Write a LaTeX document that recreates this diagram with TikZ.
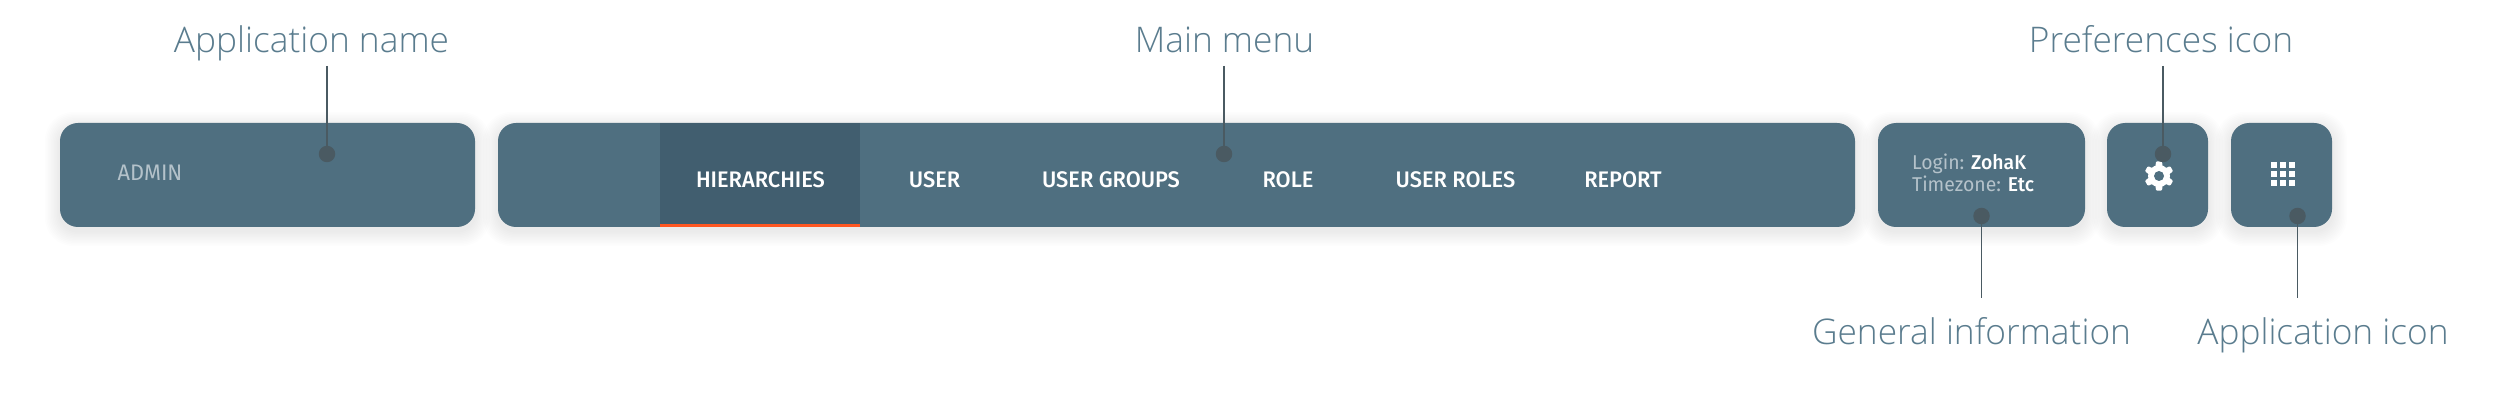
\documentclass[tikz,border=0pt]{standalone}
\usepackage{fontspec}
\setmainfont{Liberation Sans}
\newfontfamily\lblfont[UprightFont=* Light]{Open Sans}
\newfontfamily\uifont[UprightFont=* Medium,FakeStretch=0.97]{Fira Sans}
\newfontfamily\uilight[FakeStretch=0.97]{Fira Sans}
\definecolor{panel}{HTML}{4F6F80}
\definecolor{panelhi}{HTML}{415E6F}
\definecolor{panelgrey}{HTML}{B4C2CA}
\definecolor{pin}{HTML}{4A5A62}
\definecolor{lbl}{HTML}{5A7C8E}
\definecolor{accent}{HTML}{FF5722}
\tikzset{
  x=1pt,y=-1pt,
  panelbox/.style={fill=panel,rounded corners=18pt,inner sep=0pt,minimum height=104pt},
  dotpin/.style={circle,fill=pin,inner sep=0pt,minimum size=16.5pt},
  callout/.style={text=lbl,anchor=base,inner sep=0pt,font=\lblfont\fontsize{35.3}{42}\selectfont},
  menuitem/.style={text=white,anchor=base,inner sep=0pt,font=\uifont\fontsize{22.5}{26}\selectfont},
  infotext/.style={text=panelgrey,anchor=base west,inner sep=0pt,font=\uilight\fontsize{20}{23}\selectfont},
  wire/.style={draw=pin,line width=1.6pt},
  tile/.style={fill=white,inner sep=0pt,minimum size=6.2pt}
}
\newcommand{\softshadow}[2]{%
  \foreach \e in {1,2,...,10}{
    \fill[black,opacity=0.007,rounded corners=18pt+\e*1pt]
      (#1-\e*1.5,123+4-\e*1.5) rectangle (#2+\e*1.5,227+4+\e*1.5);
  }%
}
\begin{document}
\begin{tikzpicture}
\useasboundingbox (0,0) rectangle (2500,411);
\fill[white] (0,0) rectangle (2500,411);
\softshadow{60}{475}\softshadow{498}{1855}\softshadow{1878}{2085}\softshadow{2107}{2208}\softshadow{2231}{2332}
\node[panelbox,minimum width=415pt] (appbox) at (267.5,175) {};
\node[panelbox,minimum width=1357pt] (menubox) at (1176.5,175) {};
\node[panelbox,minimum width=207pt] (infobox) at (1981.5,175) {};
\node[panelbox,minimum width=101pt] (prefbox) at (2157.5,175) {};
\node[panelbox,minimum width=101pt] (iconbox) at (2281.5,175) {};
% active tab
\fill[panelhi] (660,123) rectangle (860,227);
\fill[accent] (660,224.5) rectangle (860,227);
% panel text
\node[menuitem,text=panelgrey,font=\uilight\fontsize{22.5}{26}\selectfont] (admin) at (150,180.5) {ADMIN};
\node[menuitem] (m1) at (760.5,188) {HIERARCHIES};
\node[menuitem] (m2) at (934.5,188) {USER};
\node[menuitem] (m3) at (1111,188) {USER GROUPS};
\node[menuitem] (m4) at (1288,188) {ROLE};
\node[menuitem] (m5) at (1455.5,188) {USER ROLES};
\node[menuitem] (m6) at (1623,188) {REPORT};
\node[infotext] (login) at (1912,170) {Login: {\uifont\color{white}ZohaK}};
\node[infotext] (tz) at (1912,192) {Timezone: {\uifont\color{white}Etc}};
% gear icon
\begin{scope}[shift={(2159,176)}]
  \foreach \a in {30,90,...,330}{
    \fill[white,rotate=\a,rounded corners=1pt] (9,-3.6) -- (14.6,-3) -- (14.6,3) -- (9,3.6) -- cycle;
  }
  \fill[white] (0,0) circle (11);
  \fill[panel] (0,0) circle (5);
\end{scope}
% grid icon
\foreach \c in {0,1,2}{\foreach \r in {0,1,2}{
  \node[tile] at (2274+\c*9,165+\r*9) {};
}}
% pins
\node[dotpin] (d1) at (327,154) {};
\node[dotpin] (d2) at (1224,154) {};
\node[dotpin] (d3) at (2163,154) {};
\node[dotpin] (d4) at (1981.5,216) {};
\node[dotpin] (d5) at (2297.5,216) {};
% callouts
\node[callout] (l1) at (311.5,53) {Application name};
\node[callout] (l2) at (1224.5,53) {Main menu};
\node[callout] (l3) at (2161,53) {Preferences icon};
\node[callout] (l4) at (1971.5,344.5) {General information};
\node[callout] (l5) at (2323,344.5) {Application icon};
\coordinate (c1) at (327,66);
\coordinate (c2) at (1224,66);
\coordinate (c3) at (2163,66);
\coordinate (c4) at (1981.5,298);
\coordinate (c5) at (2297.5,298);
\draw[wire] (c1) -- (d1);
\draw[wire] (c2) -- (d2);
\draw[wire] (c3) -- (d3);
\draw[wire] (c4) -- (d4);
\draw[wire] (c5) -- (d5);
\end{tikzpicture}
\end{document}
